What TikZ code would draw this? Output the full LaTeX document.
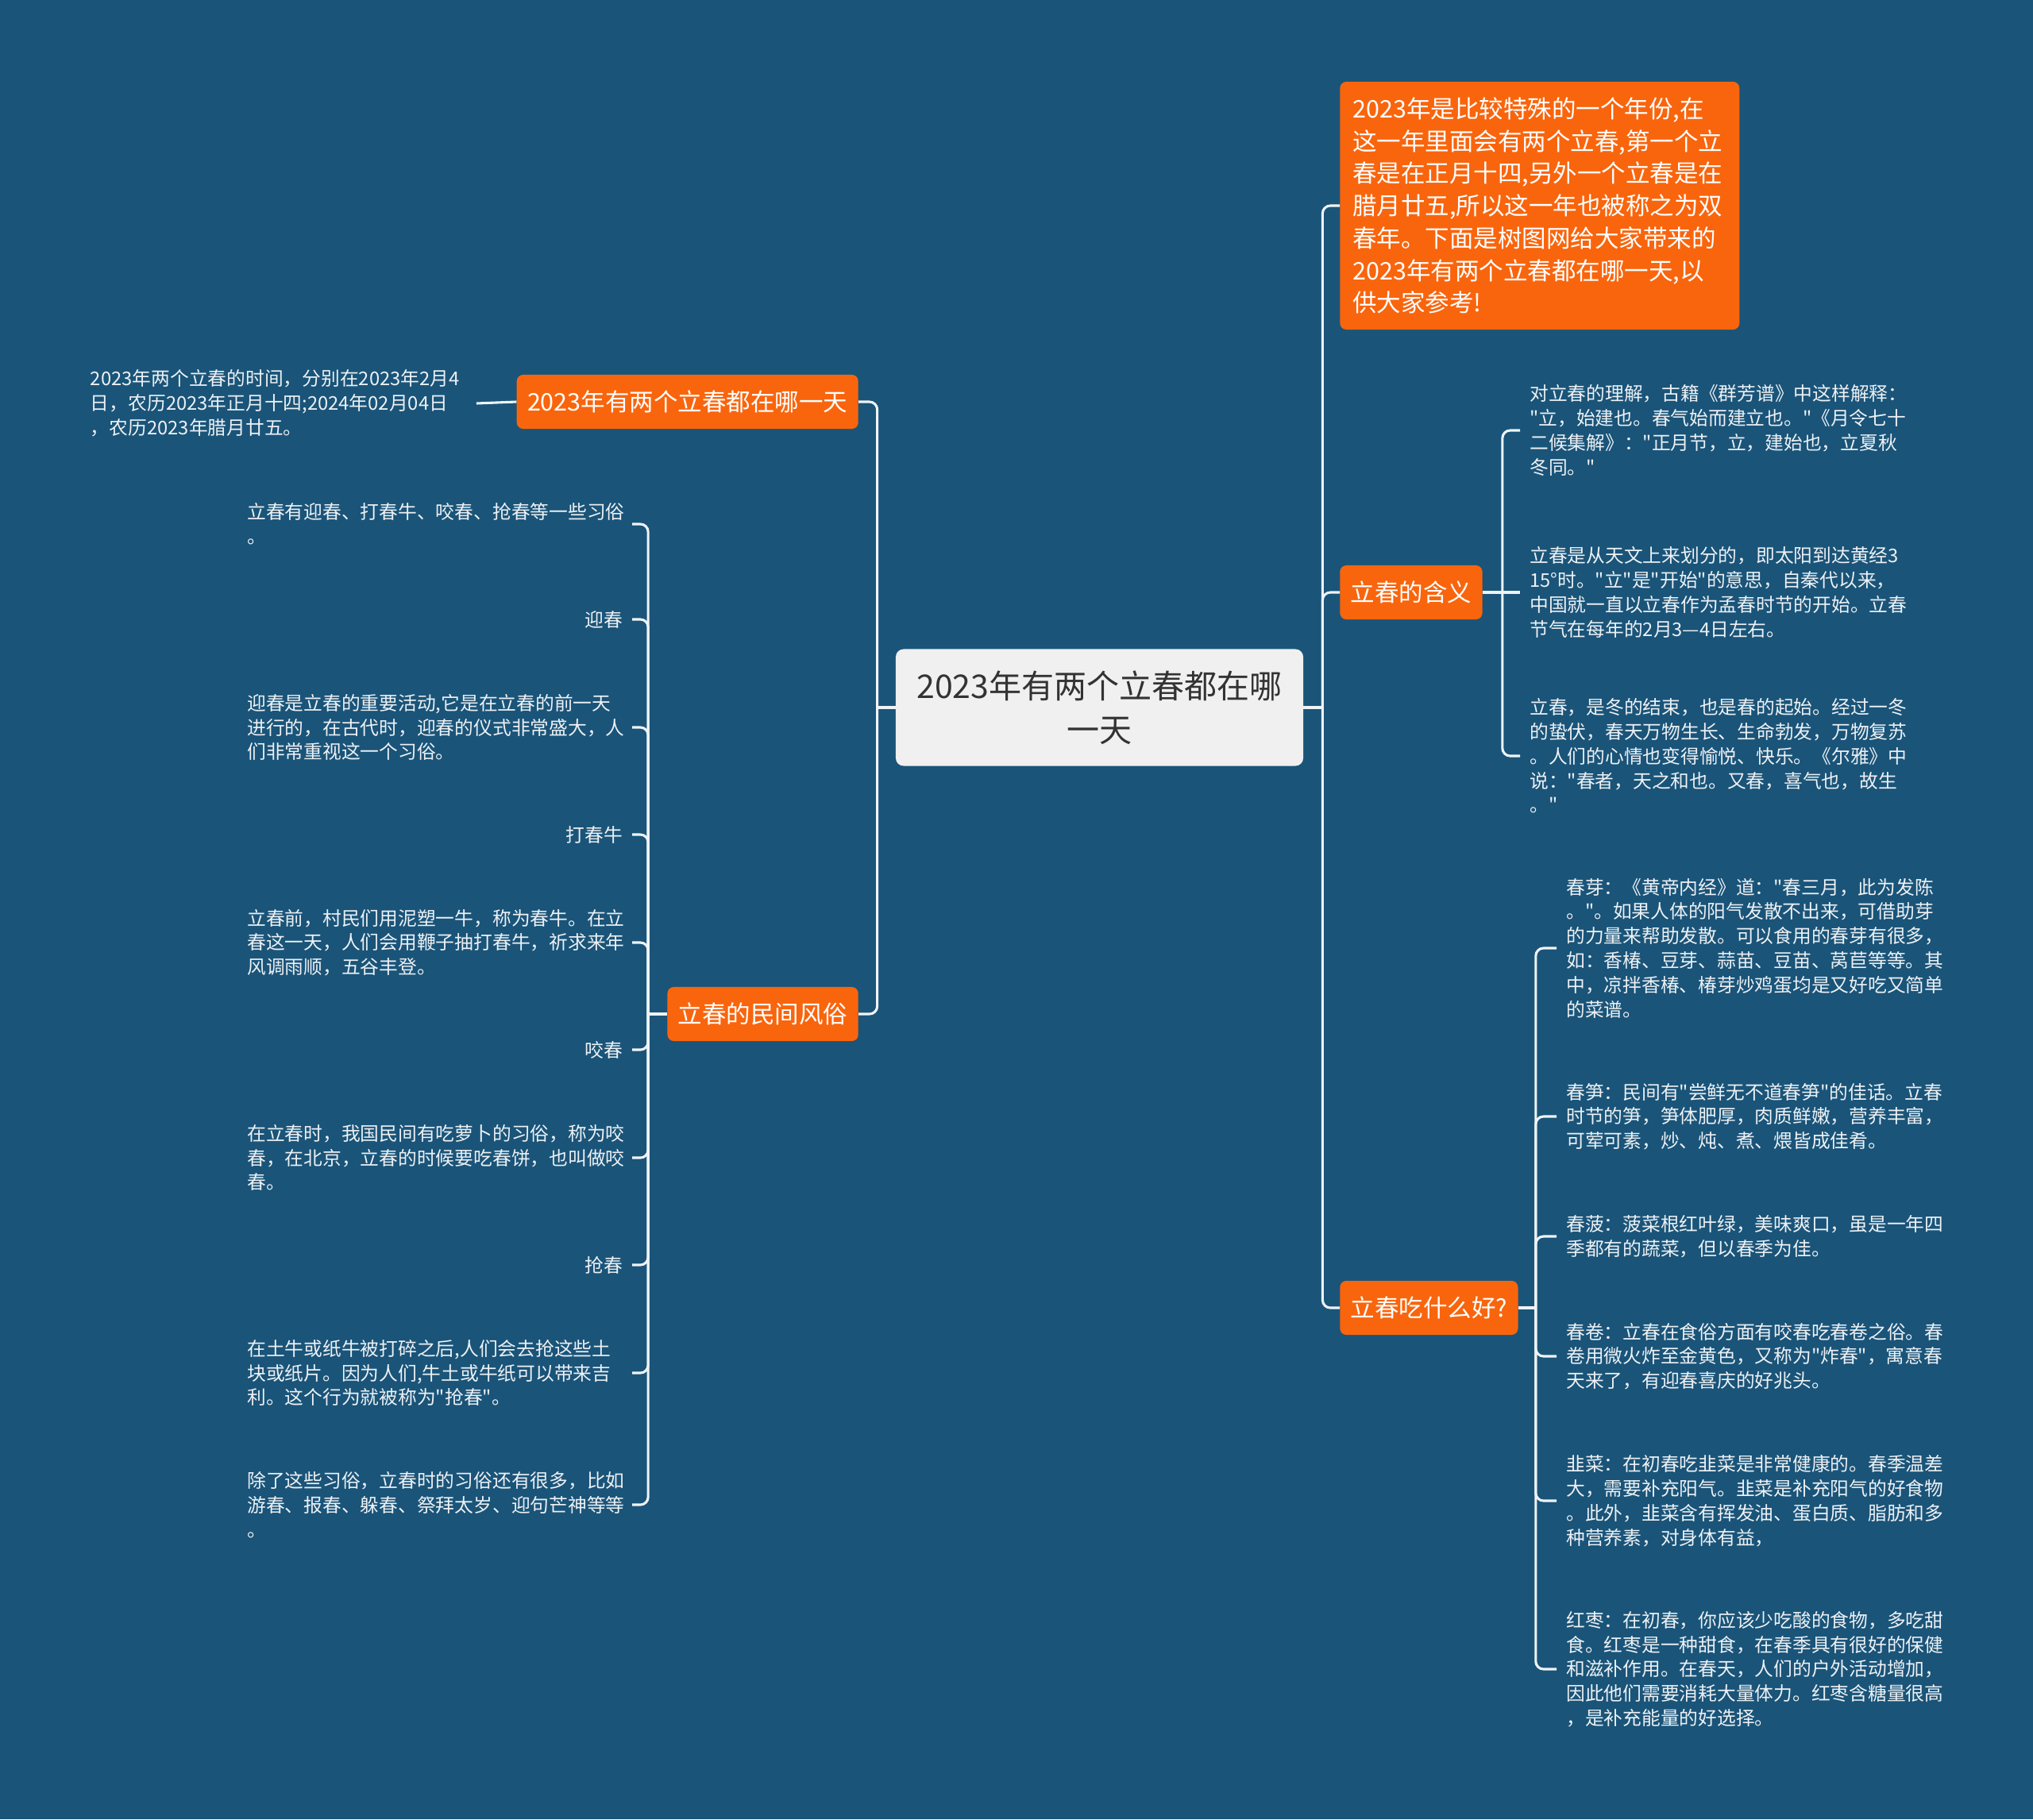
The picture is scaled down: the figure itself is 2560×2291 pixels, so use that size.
\documentclass[tikz,border=0pt]{standalone}
\usepackage{fontspec}
\setmainfont{Noto Sans CJK SC}[Ligatures=TeXOff]
\usepackage{xcolor}
\definecolor{bg}{HTML}{1A5479}
\definecolor{orng}{HTML}{F9650D}
\definecolor{pale}{HTML}{F0F0F0}
\definecolor{ink}{HTML}{333333}
\definecolor{wire}{HTML}{EEF3F6}
\definecolor{txt}{HTML}{EDF1F4}
\tikzset{
  topic/.style={fill=pale,text=ink,rounded corners=7pt,align=center,minimum width=365pt,minimum height=104.6pt,inner sep=0pt,font=\fontsize{29.2}{39.5}\selectfont},
  branch/.style={fill=orng,text=white,rounded corners=5.7pt,inner xsep=9.5pt,inner ysep=0pt,minimum height=48.4pt,font=\fontsize{21.7}{29}\selectfont},
  bigbranch/.style={branch,text width=335pt,inner xsep=11.4pt,minimum height=222pt,align=left},
  note/.style={text=txt,align=left,inner xsep=8.5pt,inner ysep=0pt,font=\fontsize{16.9}{21.9}\selectfont},
  lnote/.style={note,anchor=east},
  lwide/.style={lnote,text width=336pt},
  rnote/.style={note,anchor=west},
  link/.style={draw=wire,line width=2.2pt},
  curvelink/.style={link,rounded corners=7pt},
}
\begin{document}
\begin{tikzpicture}[x=0.25mm,y=-0.25mm]
\fill[bg] (0,0) rectangle (2560,2291);
\useasboundingbox (0,0) rectangle (2560,2291);

% centre
\node[topic] (root) at (1384.5,891) {2023年有两个立春都在哪\\一天};

% left side
\node[branch,anchor=east] (when) at (1081,506) {2023年有两个立春都在哪一天};
\node[branch,anchor=east] (folk) at (1081,1277) {立春的民间风俗};

\node[lnote,text width=337pt] (when1) at (600,508) {2023年两个立春的时间，分别在2023年2月4\\日，农历2023年正月十四;2024年02月04日\\，农历2023年腊月廿五。};

\node[lwide] (folk1) at (796,660) {立春有迎春、打春牛、咬春、抢春等一些习俗\\。};
\node[lnote] (folk2) at (796,780) {迎春};
\node[lwide] (folk3) at (796,916) {迎春是立春的重要活动,它是在立春的前一天\\进行的，在古代时，迎春的仪式非常盛大，人\\们非常重视这一个习俗。};
\node[lnote] (folk4) at (796,1051) {打春牛};
\node[lwide] (folk5) at (796,1187) {立春前，村民们用泥塑一牛，称为春牛。在立\\春这一天，人们会用鞭子抽打春牛，祈求来年\\风调雨顺，五谷丰登。};
\node[lnote] (folk6) at (796,1322) {咬春};
\node[lwide] (folk7) at (796,1458) {在立春时，我国民间有吃萝卜的习俗，称为咬\\春，在北京，立春的时候要吃春饼，也叫做咬\\春。};
\node[lnote] (folk8) at (796,1593) {抢春};
\node[lwide] (folk9) at (796,1729) {在土牛或纸牛被打碎之后,人们会去抢这些土\\块或纸片。因为人们,牛土或牛纸可以带来吉\\利。这个行为就被称为"抢春"。};
\node[lwide] (folk10) at (796,1895) {除了这些习俗，立春时的习俗还有很多，比如\\游春、报春、躲春、祭拜太岁、迎句芒神等等\\。};

% right side
\node[bigbranch,anchor=west] (intro) at (1687,259) {2023年是比较特殊的一个年份,在\\这一年里面会有两个立春,第一个立\\春是在正月十四,另外一个立春是在\\腊月廿五,所以这一年也被称之为双\\春年。下面是树图网给大家带来的\\2023年有两个立春都在哪一天,以\\供大家参考!};
\node[branch,anchor=west] (mean) at (1687,746) {立春的含义};
\node[branch,anchor=west] (food) at (1687,1647) {立春吃什么好?};

\node[rnote] (mean1) at (1914,542) {对立春的理解，古籍《群芳谱》中这样解释：\\"立，始建也。春气始而建立也。"《月令七十\\二候集解》："正月节，立，建始也，立夏秋\\冬同。"};
\node[rnote] (mean2) at (1914,746) {立春是从天文上来划分的，即太阳到达黄经3\\15°时。"立"是"开始"的意思，自秦代以来，\\中国就一直以立春作为孟春时节的开始。立春\\节气在每年的2月3—4日左右。};
\node[rnote] (mean3) at (1914,952) {立春，是冬的结束，也是春的起始。经过一冬\\的蛰伏，春天万物生长、生命勃发，万物复苏\\。人们的心情也变得愉悦、快乐。《尔雅》中\\说："春者，天之和也。又春，喜气也，故生\\。"};

\node[rnote] (food1) at (1960,1194) {春芽：《黄帝内经》道："春三月，此为发陈\\。"。如果人体的阳气发散不出来，可借助芽\\的力量来帮助发散。可以食用的春芽有很多，\\如：香椿、豆芽、蒜苗、豆苗、莴苣等等。其\\中，凉拌香椿、椿芽炒鸡蛋均是又好吃又简单\\的菜谱。};
\node[rnote] (food2) at (1960,1406) {春笋：民间有"尝鲜无不道春笋"的佳话。立春\\时节的笋，笋体肥厚，肉质鲜嫩，营养丰富，\\可荤可素，炒、炖、煮、煨皆成佳肴。};
\node[rnote] (food3) at (1960,1557) {春菠：菠菜根红叶绿，美味爽口，虽是一年四\\季都有的蔬菜，但以春季为佳。};
\node[rnote] (food4) at (1960,1708) {春卷：立春在食俗方面有咬春吃春卷之俗。春\\卷用微火炸至金黄色，又称为"炸春"，寓意春\\天来了，有迎春喜庆的好兆头。};
\node[rnote] (food5) at (1960,1890) {韭菜：在初春吃韭菜是非常健康的。春季温差\\大，需要补充阳气。韭菜是补充阳气的好食物\\。此外，韭菜含有挥发油、蛋白质、脂肪和多\\种营养素，对身体有益，};
\node[rnote] (food6) at (1960,2102) {红枣：在初春，你应该少吃酸的食物，多吃甜\\食。红枣是一种甜食，在春季具有很好的保健\\和滋补作用。在春天，人们的户外活动增加，\\因此他们需要消耗大量体力。红枣含糖量很高\\，是补充能量的好选择。};

% connectors
\draw[link] (root.west) -- ++(-23,0) coordinate (lt);
\foreach \n in {when,folk} \draw[curvelink] (lt) |- (\n.east);
\draw[link] (root.east) -- ++(24,0) coordinate (rt);
\foreach \n in {intro,mean,food} \draw[curvelink] (rt) |- (\n.west);
\draw[link] (when.west) -- (when1.east);
\draw[link] (folk.west) -- ++(-24,0) coordinate (ft);
\foreach \i in {1,...,10} \draw[curvelink] (ft) |- (folk\i.east);
\draw[link] (mean.east) -- ++(25,0) coordinate (mt);
\draw[link] (mt) -- (mean2.west);
\foreach \i in {1,3} \draw[curvelink] (mt) |- (mean\i.west);
\draw[link] (food.east) -- ++(22,0) coordinate (gt);
\foreach \i in {1,...,6} \draw[curvelink] (gt) |- (food\i.west);
\end{tikzpicture}
\end{document}
